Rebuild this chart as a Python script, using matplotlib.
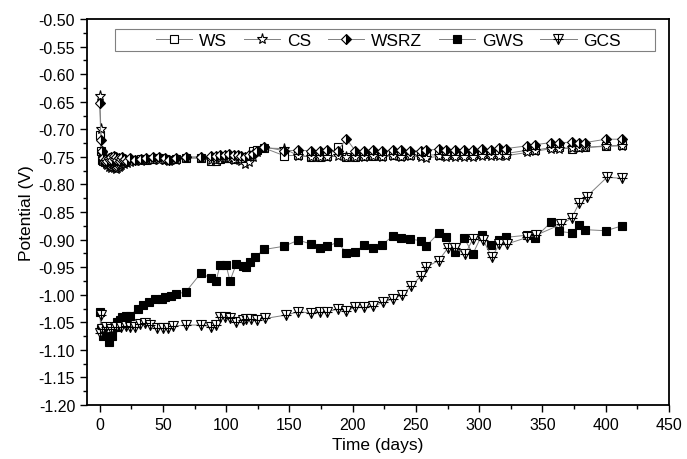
import matplotlib
matplotlib.use("Agg")
import matplotlib.pyplot as plt
from matplotlib.ticker import MultipleLocator, FormatStrFormatter
from matplotlib.legend_handler import HandlerTuple
from matplotlib.patches import Rectangle

plt.rcParams['font.family'] = ['Liberation Sans', 'DejaVu Sans']

# ---- data ----
t_w = [0, 1, 2, 3, 4, 5, 6, 7, 8, 9, 10, 11, 12, 13, 14, 15, 16, 17, 18, 19, 20,
       22, 24, 28, 33, 37, 42, 47, 52, 55, 60, 68, 80, 88, 92, 95, 99, 102, 106,
       109, 112, 115, 118, 121, 124, 130, 146, 157, 167, 174, 180, 188, 195, 202,
       209, 216, 223, 232, 238, 245, 254, 258, 268, 274, 281, 288, 295, 302, 309,
       316, 321, 338, 344, 357, 363, 373, 379, 384, 400, 413]

ws = [-0.710, -0.740, -0.755, -0.758, -0.760, -0.757, -0.762, -0.758, -0.760, -0.756,
      -0.761, -0.757, -0.759, -0.755, -0.760, -0.757, -0.758, -0.756, -0.759, -0.755,
      -0.757, -0.756, -0.755, -0.756, -0.754, -0.755, -0.753, -0.752, -0.754, -0.755,
      -0.753, -0.752, -0.752, -0.757, -0.757, -0.753, -0.752, -0.752, -0.754, -0.751,
      -0.752, -0.753, -0.750, -0.740, -0.738, -0.734, -0.748, -0.747, -0.750, -0.750,
      -0.748, -0.733, -0.750, -0.750, -0.749, -0.748, -0.748, -0.747, -0.748, -0.747,
      -0.746, -0.747, -0.746, -0.746, -0.747, -0.746, -0.746, -0.745, -0.745, -0.744,
      -0.744, -0.738, -0.738, -0.733, -0.733, -0.735, -0.733, -0.733, -0.730, -0.729]

cs = [-0.640, -0.700, -0.745, -0.755, -0.760, -0.763, -0.765, -0.768, -0.766, -0.770,
      -0.768, -0.771, -0.769, -0.772, -0.770, -0.768, -0.766, -0.765, -0.762, -0.763,
      -0.760, -0.762, -0.760, -0.758, -0.757, -0.756, -0.756, -0.755, -0.756, -0.757,
      -0.755, -0.752, -0.752, -0.755, -0.755, -0.752, -0.752, -0.752, -0.755, -0.754,
      -0.758, -0.763, -0.760, -0.750, -0.742, -0.734, -0.735, -0.748, -0.750, -0.751,
      -0.750, -0.749, -0.750, -0.750, -0.750, -0.749, -0.750, -0.748, -0.750, -0.749,
      -0.750, -0.752, -0.749, -0.750, -0.750, -0.751, -0.750, -0.748, -0.749, -0.748,
      -0.748, -0.742, -0.740, -0.735, -0.735, -0.734, -0.734, -0.733, -0.731, -0.730]

wsrz = [-0.652, -0.720, -0.739, -0.752, -0.757, -0.754, -0.758, -0.752, -0.756, -0.750,
        -0.755, -0.748, -0.753, -0.750, -0.756, -0.752, -0.757, -0.754, -0.750, -0.756,
        -0.753, -0.757, -0.752, -0.755, -0.754, -0.752, -0.751, -0.750, -0.752, -0.755,
        -0.752, -0.750, -0.750, -0.748, -0.748, -0.746, -0.746, -0.745, -0.747, -0.746,
        -0.749, -0.750, -0.747, -0.745, -0.740, -0.732, -0.739, -0.738, -0.739, -0.739,
        -0.738, -0.740, -0.717, -0.739, -0.740, -0.738, -0.740, -0.738, -0.737, -0.740,
        -0.739, -0.738, -0.736, -0.737, -0.738, -0.737, -0.738, -0.736, -0.737, -0.734,
        -0.735, -0.730, -0.728, -0.724, -0.725, -0.723, -0.724, -0.724, -0.718, -0.718]

t_gws = [0, 1, 3, 7, 10, 13, 14, 16, 18, 21, 24, 30, 34, 39, 44, 49, 52, 56, 60, 68,
         80, 88, 92, 95, 100, 103, 108, 113, 116, 119, 123, 130, 146, 157, 167, 174,
         180, 188, 195, 202, 209, 216, 223, 232, 238, 245, 254, 258, 268, 274, 281,
         288, 295, 302, 309, 316, 321, 338, 344, 357, 363, 373, 379, 384, 400, 413]
gws = [-1.031, -1.062, -1.074, -1.086, -1.075, -1.059, -1.050, -1.045, -1.041, -1.039,
       -1.038, -1.025, -1.019, -1.013, -1.007, -1.008, -1.005, -1.002, -0.999, -0.995,
       -0.961, -0.970, -0.976, -0.947, -0.947, -0.975, -0.944, -0.948, -0.950, -0.941,
       -0.931, -0.918, -0.912, -0.901, -0.908, -0.916, -0.912, -0.905, -0.924, -0.922,
       -0.910, -0.916, -0.910, -0.893, -0.897, -0.899, -0.902, -0.912, -0.888, -0.896,
       -0.923, -0.897, -0.926, -0.892, -0.910, -0.900, -0.896, -0.892, -0.897, -0.868,
       -0.885, -0.888, -0.874, -0.882, -0.884, -0.875]

t_gcs = [0, 1, 2, 5, 9, 13, 17, 21, 24, 28, 32, 36, 40, 45, 50, 54, 58, 68, 80, 88,
         92, 95, 99, 103, 108, 113, 116, 120, 124, 131, 147, 157, 167, 174, 180, 188,
         195, 202, 209, 216, 224, 232, 239, 246, 254, 258, 268, 275, 281, 289, 295,
         303, 310, 316, 322, 338, 345, 365, 373, 379, 385, 401, 413]
gcs = [-1.070, -1.036, -1.062, -1.059, -1.062, -1.059, -1.058, -1.057, -1.058, -1.058,
       -1.054, -1.052, -1.055, -1.061, -1.061, -1.060, -1.057, -1.055, -1.055, -1.058,
       -1.055, -1.040, -1.041, -1.043, -1.050, -1.045, -1.044, -1.044, -1.046, -1.043,
       -1.037, -1.031, -1.033, -1.031, -1.031, -1.026, -1.029, -1.023, -1.023, -1.021,
       -1.014, -1.007, -1.001, -0.985, -0.966, -0.950, -0.938, -0.916, -0.916, -0.926,
       -0.899, -0.900, -0.932, -0.908, -0.908, -0.896, -0.892, -0.872, -0.861, -0.834,
       -0.822, -0.787, -0.789]

labels = ['WS', 'CS', 'WSRZ', 'GWS', 'GCS']

# ---- plot ----
fig = plt.figure(figsize=(6.87, 4.60), dpi=100)
ax = fig.add_axes([87/687, 54/460, 582/687, 386/460])

line_kw = dict(color='#808080', linewidth=0.7, markeredgecolor='black',
               markeredgewidth=0.8)
h_ws, = ax.plot(t_w, ws, marker='s', markerfacecolor='white', markersize=5.5, **line_kw)
h_cs, = ax.plot(t_w, cs, marker='*', markerfacecolor='white', markersize=8, **line_kw)
h_wsrz, = ax.plot(t_w, wsrz, marker='D', fillstyle='right', markerfacecolor='black',
                  markerfacecoloralt='white', markersize=5.5, **line_kw)
h_gws, = ax.plot(t_gws, gws, marker='s', markerfacecolor='black', markersize=6, **line_kw)
h_gcs, = ax.plot(t_gcs, gcs, marker='v', markerfacecolor='white', markersize=7, **line_kw)
h_gcs2, = ax.plot(t_gcs, gcs, linestyle='none', marker='+', markersize=7,
                  markeredgecolor='black', markeredgewidth=0.8)

ax.set_xlim(-10, 450)
ax.set_ylim(-1.20, -0.50)
ax.xaxis.set_major_locator(MultipleLocator(50))
ax.xaxis.set_minor_locator(MultipleLocator(25))
ax.yaxis.set_major_locator(MultipleLocator(0.05))
ax.yaxis.set_minor_locator(MultipleLocator(0.025))
ax.yaxis.set_major_formatter(FormatStrFormatter('%.2f'))
ax.tick_params(which='both', direction='out', top=False, right=False, labelsize=11.5,
               width=1.0)
ax.tick_params(which='major', length=5)
ax.tick_params(which='minor', length=3)
for s in ax.spines.values():
    s.set_linewidth(1.3)

ax.set_xlabel('Time (days)', fontsize=12.5, labelpad=4)
ax.set_ylabel('Potential (V)', fontsize=12.5, labelpad=3)

# legend frame drawn separately, entries centred inside it
ax.add_patch(Rectangle((0.048, 0.917), 0.928, 0.057, transform=ax.transAxes,
                       facecolor='white', edgecolor='#808080', linewidth=0.8,
                       zorder=4))
leg = ax.legend([h_ws, h_cs, h_wsrz, h_gws, (h_gcs, h_gcs2)], labels,
                handler_map={tuple: HandlerTuple(ndivide=1, pad=0)},
                ncol=5, loc='center', bbox_to_anchor=(0.518, 0.9455),
                fontsize=12.5, frameon=False, handlelength=2.1,
                handletextpad=0.4, columnspacing=0.95, borderaxespad=0,
                borderpad=0)
leg.set_zorder(5)

fig.savefig('out.png', dpi=100)
